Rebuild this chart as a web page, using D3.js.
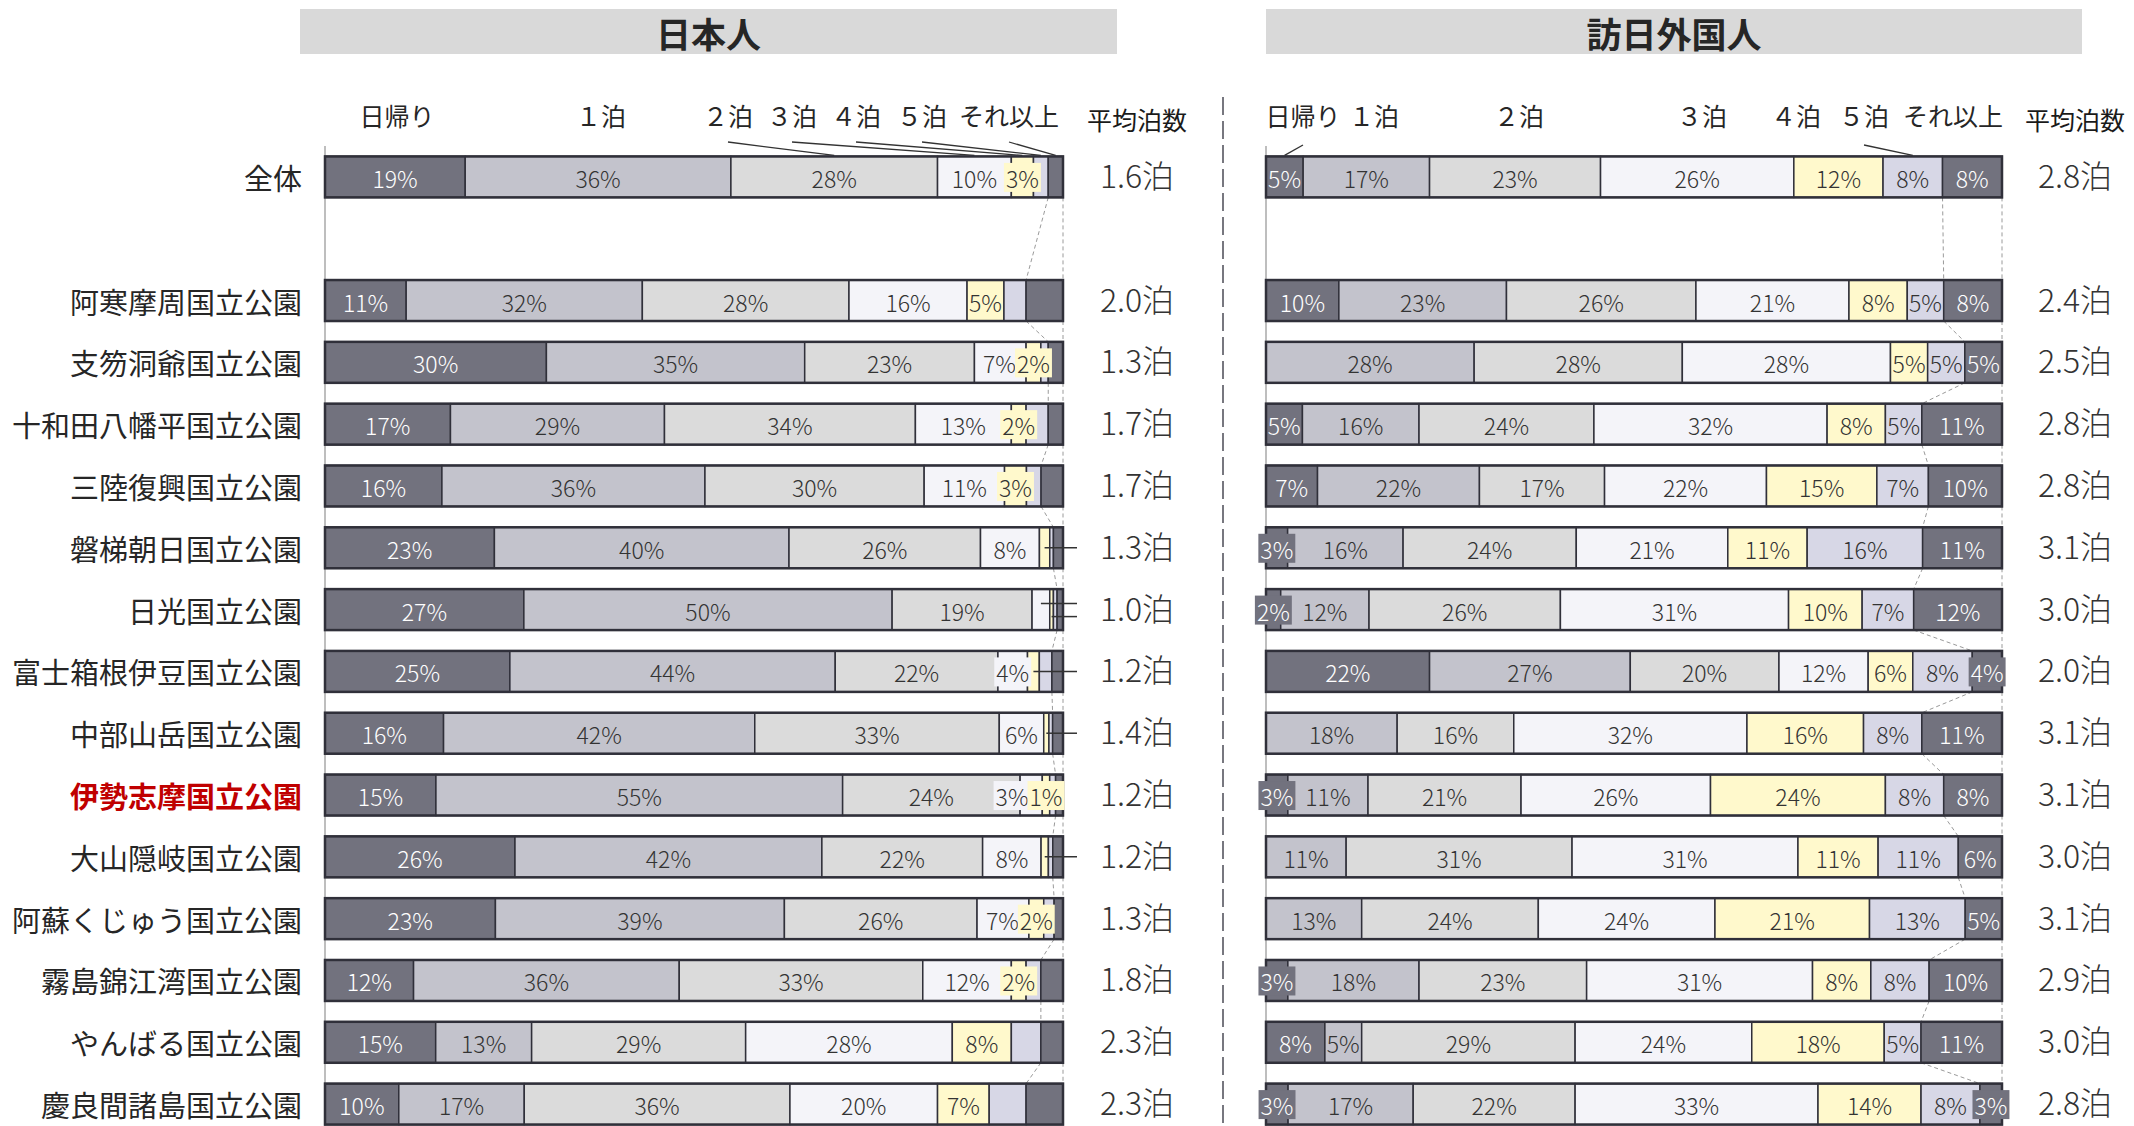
<!DOCTYPE html>
<html lang="ja">
<head>
<meta charset="UTF-8">
<title>国立公園別 宿泊日数</title>
<script src="https://cdn.jsdelivr.net/npm/d3@7"></script>
<style>
	body {
		margin: 0;
		background: #fff;
	}
	svg {
		display: block;
		font-family: "Noto Sans CJK JP", "Noto Sans", sans-serif;
	}
</style>
</head>
<body>
<svg id="chart" width="2134" height="1126"></svg>
<script>
	// row labels (全体 first, then a blank slot, then the parks)
	const categories = ["全体", "阿寒摩周国立公園", "支笏洞爺国立公園", "十和田八幡平国立公園", "三陸復興国立公園",
		"磐梯朝日国立公園", "日光国立公園", "富士箱根伊豆国立公園", "中部山岳国立公園", "伊勢志摩国立公園",
		"大山隠岐国立公園", "阿蘇くじゅう国立公園", "霧島錦江湾国立公園", "やんばる国立公園", "慶良間諸島国立公園"]
	const highlight = "伊勢志摩国立公園"
	const seriesNames = ["日帰り", "１泊", "２泊", "３泊", "４泊", "５泊", "それ以上"]
	const seriesColors = ["#72727e", "#c3c3cc", "#dbdbdb", "#f4f4f9", "#fff9cc", "#d7d7e6", "#72727e"]

	// 日本人: share per stay length (%)
	const jpData = [
		[19, 36, 28, 10, 3, 2, 2],
		[11, 32, 28, 16, 5, 3, 5],
		[30, 35, 23, 7, 2, 1, 2],
		[17, 29, 34, 13, 2, 3, 2],
		[16, 36, 30, 11, 3, 2, 3],
		[23, 40, 26, 8, 1.4, 0.5, 1.3],
		[27, 50, 19, 2.4, 0.5, 0.5, 0.8],
		[25, 44, 22, 4, 1.6, 1.7, 1.5],
		[16, 42, 33, 6, 0.7, 0.5, 1.4],
		[15, 55, 24, 3, 1, 0.8, 1],
		[26, 42, 22, 8, 1, 0.6, 1.4],
		[23, 39, 26, 7, 2, 1.4, 1.2],
		[12, 36, 33, 12, 2, 2, 3],
		[15, 13, 29, 28, 8, 4, 3],
		[10, 17, 36, 20, 7, 5, 5]
	]
	// how many leading segments carry a printed label
	const jpLabelCount = [5, 5, 5, 5, 5, 4, 3, 4, 4, 5, 4, 5, 5, 5, 5]
	const jpAvg = [1.6, 2.0, 1.3, 1.7, 1.7, 1.3, 1.0, 1.2, 1.4, 1.2, 1.2, 1.3, 1.8, 2.3, 2.3]

	// 訪日外国人
	const fgData = [
		[5, 17, 23, 26, 12, 8, 8],
		[10, 23, 26, 21, 8, 5, 8],
		[0, 28, 28, 28, 5, 5, 5],
		[5, 16, 24, 32, 8, 5, 11],
		[7, 22, 17, 22, 15, 7, 10],
		[3, 16, 24, 21, 11, 16, 11],
		[2, 12, 26, 31, 10, 7, 12],
		[22, 27, 20, 12, 6, 8, 4],
		[0, 18, 16, 32, 16, 8, 11],
		[3, 11, 21, 26, 24, 8, 8],
		[0, 11, 31, 31, 11, 11, 6],
		[0, 13, 24, 24, 21, 13, 5],
		[3, 18, 23, 31, 8, 8, 10],
		[8, 5, 29, 24, 18, 5, 11],
		[3, 17, 22, 33, 14, 8, 3]
	]
	const fgLabelCount = [7, 7, 7, 7, 7, 7, 7, 7, 7, 7, 7, 7, 7, 7, 7]
	const fgAvg = [2.8, 2.4, 2.5, 2.8, 2.8, 3.1, 3.0, 2.0, 3.1, 3.1, 3.0, 3.1, 2.9, 3.0, 2.8]

	const svg = d3.select("#chart")

	// row slots: 全体, an empty slot, then parks
	const slots = [categories[0], "__gap__", ...categories.slice(1)]
	const y = d3.scaleBand().domain(slots).range([146, 1135]).paddingInner(0.337).paddingOuter(0.1685)
	const bh = y.bandwidth()

	const panels = [
		{
			title: "日本人", data: jpData, avg: jpAvg, labelCount: jpLabelCount,
			x: d3.scaleLinear().domain([0, 100]).range([325, 1063]),
			header: [300, 1117], avgX: 1137,
			legendX: [397, 601, 728, 792, 856, 922, 1009],
			legendLine: [false, false, true, true, true, true, true],
			lineTop: 142
		},
		{
			title: "訪日外国人", data: fgData, avg: fgAvg, labelCount: fgLabelCount,
			x: d3.scaleLinear().domain([0, 100]).range([1266, 2002]),
			header: [1266, 2082], avgX: 2075,
			legendX: [1303, 1374, 1519, 1702, 1796, 1864, 1953],
			legendLine: [true, false, false, false, false, true, false],
			lineTop: 145
		}
	]

	// category labels
	svg.append("g").selectAll("text").data(categories).join("text")
		.attr("x", 302)
		.attr("y", d => y(d) + bh / 2)
		.attr("text-anchor", "end")
		.attr("dominant-baseline", "central")
		.attr("font-size", 29)
		.attr("font-weight", d => d == highlight ? 700 : 400)
		.attr("fill", d => d == highlight ? "#c00000" : "#262626")
		.text(d => d)

	// dashed divider between the two panels
	svg.append("line")
		.attr("x1", 1223).attr("x2", 1223).attr("y1", 97).attr("y2", 1126)
		.attr("stroke", "#77777f").attr("stroke-width", 2).attr("stroke-dasharray", "18,6")

	function segmentsOf(vals, x) {
		const total = d3.sum(vals)
		let cum = 0
		return vals.map((v, i) => {
			const s = { i, v, x0: x(cum / total * 100), x1: x((cum + v) / total * 100) }
			cum += v
			return s
		})
	}

	for (const p of panels) {
		const g = svg.append("g")
		const x = p.x

		// header band
		g.append("rect")
			.attr("x", p.header[0]).attr("y", 9)
			.attr("width", p.header[1] - p.header[0]).attr("height", 45)
			.attr("fill", "#d9d9d9")
		g.append("text")
			.attr("x", (p.header[0] + p.header[1]) / 2).attr("y", 32)
			.attr("text-anchor", "middle").attr("dominant-baseline", "central")
			.attr("font-size", 35).attr("font-weight", 700).attr("fill", "#262626")
			.text(p.title)

		// 平均泊数 header
		g.append("text")
			.attr("x", p.avgX).attr("y", 119)
			.attr("text-anchor", "middle").attr("dominant-baseline", "central")
			.attr("font-size", 25).attr("fill", "#1a1a1a")
			.text("平均泊数")

		// left axis line
		g.append("line")
			.attr("x1", x(0)).attr("x2", x(0)).attr("y1", 146).attr("y2", 1126)
			.attr("stroke", "#a8a8a8").attr("stroke-width", 1.5)

		const rows = p.data.map((vals, ri) => ({ key: categories[ri], segs: segmentsOf(vals, x), ri }))

		// legend labels (series names) with leader lines to the 全体 bar
		const first = rows[0].segs
		seriesNames.forEach((name, i) => {
			g.append("text")
				.attr("x", p.legendX[i]).attr("y", 115)
				.attr("text-anchor", "middle").attr("dominant-baseline", "central")
				.attr("font-size", 25).attr("fill", "#262626")
				.text(name)
			if (p.legendLine[i]) {
				g.append("line")
					.attr("x1", p.legendX[i]).attr("y1", p.lineTop)
					.attr("x2", (first[i].x0 + first[i].x1) / 2).attr("y2", y(categories[0]) - 1)
					.attr("stroke", "#333").attr("stroke-width", 1.3)
			}
		})

		// series lines joining the last segment's edges between rows
		for (let k = 0; k < rows.length - 1; k++) {
			const a = rows[k].segs, b = rows[k + 1].segs
			const pairs = [[a[6].x0, b[6].x0], [a[6].x1, b[6].x1]]
			for (const [xa, xb] of pairs) {
				g.append("line")
					.attr("x1", xa).attr("y1", y(rows[k].key) + bh)
					.attr("x2", xb).attr("y2", y(rows[k + 1].key))
					.attr("stroke", "#9a9a9a").attr("stroke-width", 1).attr("stroke-dasharray", "4,3")
			}
		}

		// bars
		for (const r of rows) {
			const top = y(r.key)
			const bar = g.append("g")
			bar.selectAll("rect").data(r.segs.filter(s => s.v > 0)).join("rect")
				.attr("x", s => s.x0).attr("y", top)
				.attr("width", s => s.x1 - s.x0).attr("height", bh)
				.attr("fill", s => seriesColors[s.i])
				.attr("stroke", "#30303a").attr("stroke-width", 1.5)
			bar.append("rect")
				.attr("x", x(0)).attr("y", top).attr("width", x(100) - x(0)).attr("height", bh)
				.attr("fill", "none").attr("stroke", "#30303a").attr("stroke-width", 2.5)

			// leader stubs for small unlabeled 3泊/4泊 pieces
			const stubs = r.segs.filter(s => s.i >= p.labelCount[r.ri] && s.i < 5 && s.v > 0)
			stubs.forEach((s, k) => {
				const dy = stubs.length > 1 ? (k == 0 ? -6 : 7) : 0
				g.append("line")
					.attr("x1", (s.x0 + s.x1) / 2).attr("x2", x(100) + 14)
					.attr("y1", top + bh / 2 + dy).attr("y2", top + bh / 2 + dy)
					.attr("stroke", "#333").attr("stroke-width", 1.5)
			})

			// value labels
			const cy = top + bh / 2 + 1
			const labs = r.segs.filter(s => s.v > 0 && s.i < p.labelCount[r.ri]).map(s => {
				const lg = g.append("g")
				const box = lg.append("rect")
				const t = lg.append("text")
					.attr("text-anchor", "middle").attr("dominant-baseline", "central")
					.attr("font-size", 23).attr("font-weight", 300)
					.attr("fill", (s.i == 0 || s.i == 6) ? "#ffffff" : "#333333")
					.text(Math.round(s.v) + "%")
				const w = t.node().getComputedTextLength()
				return { s, lg, box, t, w, cx: (s.x0 + s.x1) / 2, boxed: w + 2 > s.x1 - s.x0 }
			})
			// push overlapping labels apart (leftwards)
			for (let k = labs.length - 2; k >= 0; k--) {
				const a = labs[k], b = labs[k + 1]
				const limit = b.cx - b.w / 2 - 1
				if ((a.boxed || b.boxed) && a.cx + a.w / 2 > limit) a.cx = limit - a.w / 2
			}
			for (const l of labs) {
				l.t.attr("x", l.cx).attr("y", cy)
				if (l.boxed) {
					l.box.attr("x", l.cx - l.w / 2 - 2).attr("y", cy - 15)
						.attr("width", l.w + 4).attr("height", 29)
						.attr("fill", seriesColors[l.s.i])
				} else {
					l.box.remove()
				}
			}

			// average nights
			g.append("text")
				.attr("x", p.avgX).attr("y", top + bh / 2 - 3)
				.attr("text-anchor", "middle").attr("dominant-baseline", "central")
				.attr("font-size", 32).attr("font-weight", 300).attr("fill", "#333")
				.text(p.avg[r.ri].toFixed(1) + "泊")
		}
	}
</script>
</body>
</html>
